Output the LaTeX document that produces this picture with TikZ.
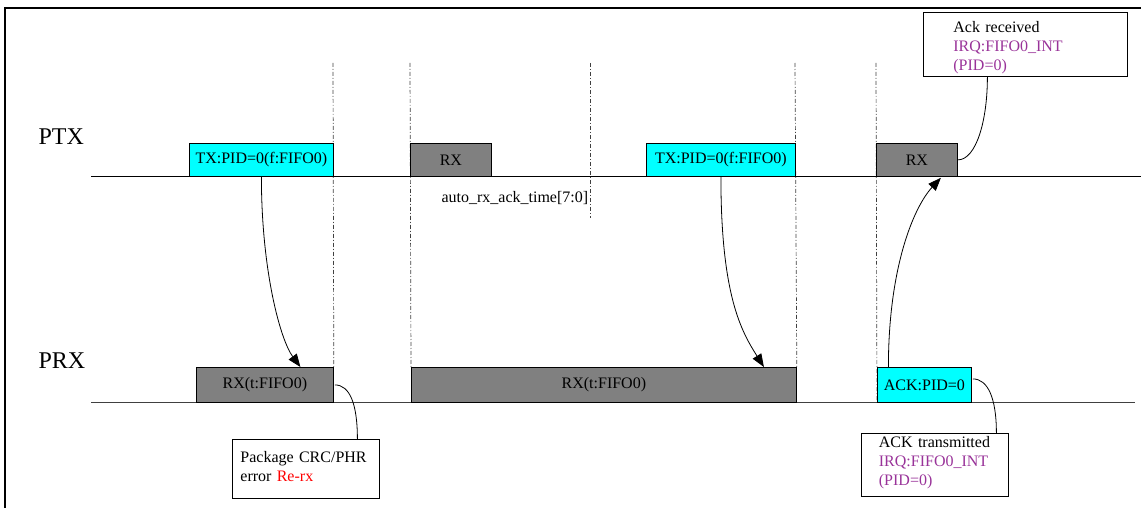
\documentclass[tikz,border=0pt]{standalone}
\usepackage{fontspec}
\setmainfont{Liberation Serif}
\usetikzlibrary{arrows.meta,calc,backgrounds}
\definecolor{boxcyan}{RGB}{0,255,255}
\definecolor{boxgray}{RGB}{128,128,128}
\definecolor{irqpurple}{RGB}{153,51,153}
\definecolor{errred}{RGB}{255,0,0}
\begin{document}
\begin{tikzpicture}[x=1pt,y=-1pt,
  slot/.style={draw=black, line width=0.8pt, inner sep=0pt, anchor=north west,
    font=\fontsize{16}{19}\selectfont},
  cyanbox/.style={slot, fill=boxcyan},
  graybox/.style={slot, fill=boxgray},
  note/.style={draw=black, line width=0.8pt, anchor=north west, align=left,
    inner ysep=0pt, font=\fontsize{16}{19}\selectfont},
  lane/.style={anchor=base west, font=\fontsize{24}{28}\selectfont},
  plain/.style={anchor=base west, font=\fontsize{16}{19}\selectfont},
  timeline/.style={line width=0.9pt},
  marker/.style={line width=0.7pt, draw=black!75, dash pattern=on 4pt off 2pt on 1pt off 2pt},
  frameline/.style={line width=1.8pt},
  link/.style={line width=0.8pt},
  msg/.style={line width=0.8pt, -{Triangle[length=13pt,width=10pt]}},
]
\useasboundingbox (0,0) rectangle (1141,508);

% frame
\coordinate (fbl) at (5,508);
\coordinate (ftl) at (5,8);
\coordinate (ftr) at (1141,8);
\draw[frameline] (fbl) -- (ftl) -- (ftr);

% lane labels
\node[lane] (ptx) at (35,145) {PTX};
\node[lane] (prx) at (35,368) {PRX};

% boxes on PTX
\node[cyanbox, minimum width=144, minimum height=33] (tx1) at (189,143) {TX:PID=0(f:FIFO0)};
\node[graybox, minimum width=81, minimum height=33] (rx1) at (410,143) {RX};
\node[cyanbox, minimum width=149, minimum height=33] (tx2) at (646,143) {TX:PID=0(f:FIFO0)};
\node[graybox, minimum width=81, minimum height=33] (rx2) at (876,143) {RX};

% boxes on PRX
\node[graybox, minimum width=137, minimum height=35] (prx1) at (196,367) {RX(t:FIFO0)};
\node[graybox, minimum width=385, minimum height=35] (prx2) at (411,367) {RX(t:FIFO0)};
\node[cyanbox, minimum width=94, minimum height=35] (ack) at (877,367) {ACK:PID=0};

% text
\node[plain] (auto) at (438,202) {auto\_rx\_ack\_time[7:0]};

% notes
\node[note, text width=144, inner xsep=30] (ackrx) at (923,12)
  {\rule{0pt}{20pt}Ack received\\\textcolor{irqpurple}{IRQ:FIFO0\_INT}\\\textcolor{irqpurple}{(PID=0)}\rule[-6pt]{0pt}{6pt}};
\node[note, text width=131, inner xsep=8] (pkg) at (232,439)
  {\rule{0pt}{23pt}Package CRC/PHR\\error \textcolor{errred}{Re-rx}\rule[-17pt]{0pt}{17pt}};
\node[note, text width=112, inner xsep=17.5] (ackt) at (861,433)
  {\rule{0pt}{14pt}ACK transmitted\\\textcolor{irqpurple}{IRQ:FIFO0\_INT}\\\textcolor{irqpurple}{(PID=0)}\rule[-11pt]{0pt}{11pt}};

\begin{scope}[on background layer]
  \coordinate (ptxs) at (91,176);
  \coordinate (ptxe) at (1141,176);
  \coordinate (prxs) at (91,402);
  \coordinate (prxe) at (1135,402);
  \draw[timeline] (ptxs) -- (ptxe);
  \draw[timeline, draw=black!75] (prxs) -- (prxe);
  \coordinate (m1) at (333,63);
  \coordinate (m2) at (410,63);
  \coordinate (m3) at (590,63);
  \coordinate (m3b) at (590,218);
  \coordinate (m4) at (795,63);
  \coordinate (m5) at (876,63);
  \draw[marker] (m1) -- (prx1.north east);
  \draw[marker] (m2) -- (prx2.north west);
  \draw[marker] (m3) -- (m3b);
  \draw[marker] (m4) -- (prx2.north east);
  \draw[marker] (m5) -- (ack.south west);
\end{scope}

% messages
\draw[msg] (tx1.south) .. controls ($(tx1.south)+(0,94)$) and ($(prx1.north)+(15.5,-27)$) .. ($(prx1.north)+(35.5,0)$);
\draw[msg] (tx2.south) .. controls ($(tx2.south)+(0,120)$) and ($(prx2.north)+(138,-35)$) .. ($(prx2.north)+(160,0)$);
\draw[msg] ($(ack.north)+(-36,0)$) .. controls ($(ack.north)+(-36,-100)$) and ($(rx2.south)+(-3,30)$) .. ($(rx2.south)+(24,1)$);

% note links
\draw[link] ($(ackrx.south)+(-38,0)$) .. controls ($(ackrx.south)+(-38,45)$) and ($(rx2.east)+(18,0)$) .. (rx2.east);
\draw[link] ($(prx1.east)+(1,0)$) .. controls ($(prx1.east)+(16,0)$) and ($(pkg.north)+(51.5,-35)$) .. ($(pkg.north)+(51.5,0)$);
\draw[link] ($(ack.east)+(1,-6)$) .. controls ($(ack.east)+(16,-6)$) and ($(ackt.north)+(61.5,-35)$) .. ($(ackt.north)+(61.5,0)$);
\end{tikzpicture}
\end{document}
